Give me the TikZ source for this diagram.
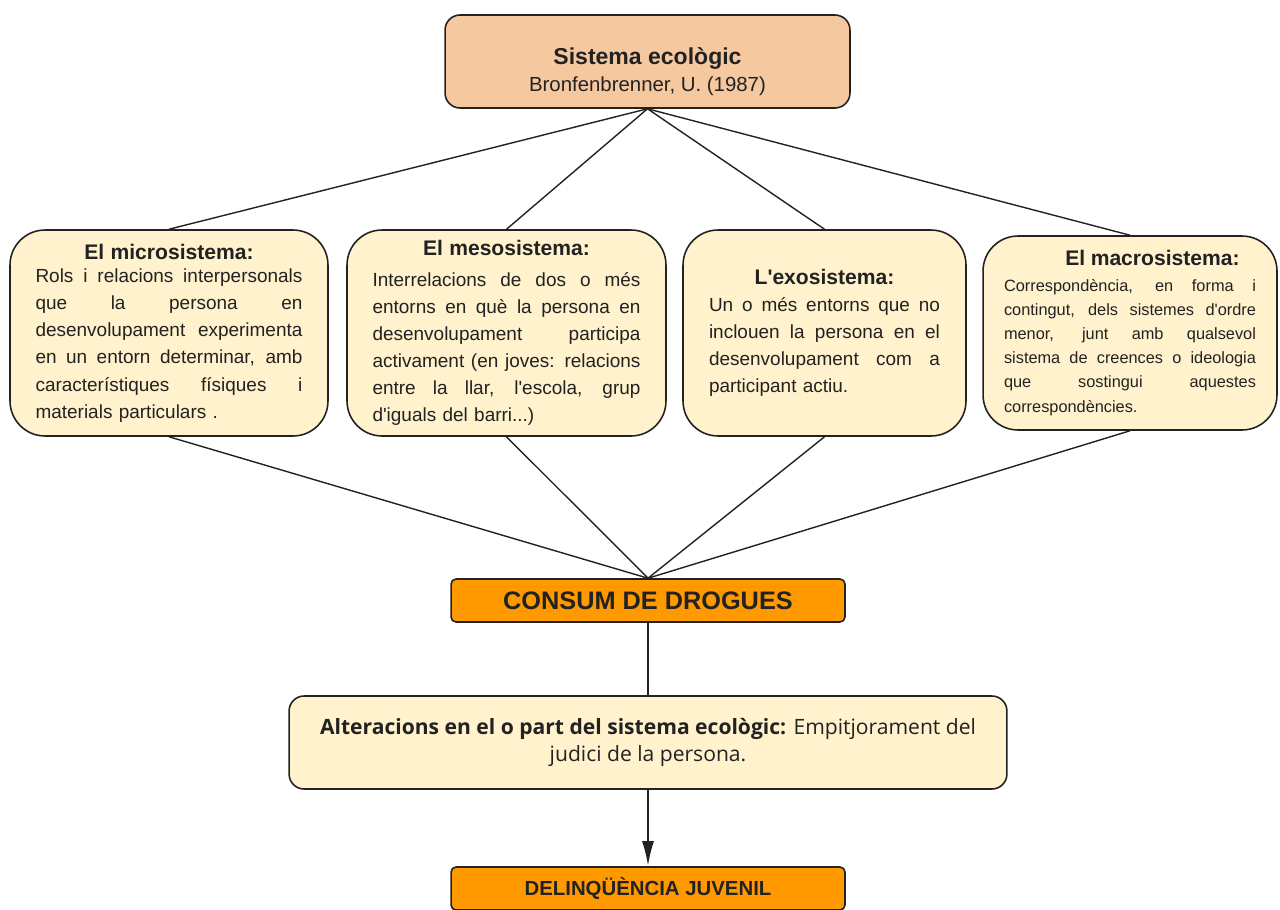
\documentclass[tikz,border=0pt]{standalone}
\usepackage{fontspec}
\setmainfont{Liberation Sans}
\newfontfamily\opensans{Open Sans}
\usepackage{xcolor}
\usetikzlibrary{arrows.meta}
\definecolor{peach}{HTML}{F6C8A0}
\definecolor{cream}{HTML}{FFF2CC}
\definecolor{amber}{HTML}{FF9900}
\definecolor{ink}{HTML}{222222}
\tikzstyle{topbox}=[rectangle,rounded corners=0.3cm,draw=ink,line width=0.9pt,fill=peach,minimum width=8.1cm,minimum height=1.86cm]
\tikzstyle{sysbox}=[rectangle,rounded corners=0.7cm,draw=ink,line width=0.9pt,fill=cream,minimum height=4.12cm,align=left,text=ink,inner sep=0pt,font=\fontsize{10.8}{15.4}\selectfont]
\tikzstyle{drugbox}=[rectangle,rounded corners=0.1cm,draw=ink,line width=0.9pt,fill=amber,minimum width=7.88cm,minimum height=0.86cm,text=ink]
\tikzstyle{link}=[draw=ink,line width=0.8pt]
\newcommand*{\jl}[1]{\makebox[\linewidth][s]{\spaceskip=0pt\xspaceskip=0pt\relax #1}\\}
\newcommand*{\hd}[2][0pt]{\makebox[\linewidth]{\fontsize{12}{15}\selectfont\bfseries #2}\\[#1]}
\newcommand*{\ap}{\textquotesingle}

\begin{document}
\begin{tikzpicture}[x=0.02cm,y=-0.02cm]
    \useasboundingbox (0,0) rectangle (1280,909);

    \node [topbox] (sis) at (647.5,61.5) {};
    \node [align=center,text=ink] (sis text) at (647.5,71.5) {{\fontsize{13.1}{16}\selectfont\bfseries Sistema ecològic}\\[3pt]{\fontsize{11.6}{14}\selectfont Bronfenbrenner, U. (1987)}};

    \node [sysbox,minimum width=6.36cm,text width=5.34cm] (micro) at (169,333) {%
      \hd[-2pt]{El microsistema:}
      \jl{Rols i relacions interpersonals}
      \jl{que la persona en}
      \jl{desenvolupament experimenta}
      \jl{en un entorn determinar, amb}
      \jl{característiques físiques i}
      materials particulars .};
    \node [sysbox,minimum width=6.38cm,text width=5.36cm] (meso) at (506.5,333) {%
      \hd[2pt]{El mesosistema:}
      \jl{Interrelacions de dos o més}
      \jl{entorns en què la persona en}
      \jl{desenvolupament participa}
      \jl{activament (en joves: relacions}
      \jl{entre la llar, l\ap escola, grup}
      d\ap iguals del barri...)};
    \node [sysbox,minimum width=5.66cm,text width=4.62cm] (exo) at (824.5,333) {%
      \hd{L\ap exosistema:}
      \jl{Un o més entorns que no}
      \jl{inclouen la persona en el}
      \jl{desenvolupament com a}
      participant actiu.};
    \node [sysbox,minimum width=5.88cm,minimum height=3.88cm,text width=5.04cm,font=\fontsize{9.3}{13.7}\selectfont] (macro) at (1130,333) {%
      \hd[1pt]{\hspace*{0.9cm}El macrosistema:}
      \jl{Correspondència, en forma i}
      \jl{contingut, dels sistemes d\ap ordre}
      \jl{menor, junt amb qualsevol}
      \jl{sistema de creences o ideologia}
      \jl{que sostingui aquestes}
      correspondències.};

    \node [drugbox,font=\fontsize{14.4}{17}\selectfont\bfseries] (consum) at (648,600.5) {CONSUM DE DROGUES};
    \node [rectangle,rounded corners=0.3cm,draw=ink,line width=0.9pt,fill=cream,minimum width=14.36cm,minimum height=1.86cm,align=center,text=ink,font=\opensans\fontsize{12}{15.4}\selectfont] (alter) at (648,742.5) {\textbf{Alteracions en el o part del sistema ecològic:} Empitjorament del\\judici de la persona.};
    \node [drugbox,font=\fontsize{11.6}{14}\selectfont\bfseries] (delinq) at (648,888.5) {DELINQÜÈNCIA JUVENIL};

    % ecological levels
    \foreach \lvl in {micro,meso,exo,macro} {
      \draw [link] (sis.south) -- (\lvl.north);
      \draw [link] (\lvl.south) -- (consum.north);
    }
    \draw [link] (consum.south) -- (alter.north);
    \draw [link,line width=1.3pt,-{Latex[length=0.5cm,width=0.24cm]}] (alter.south) -- (delinq.north);
\end{tikzpicture}
\end{document}
